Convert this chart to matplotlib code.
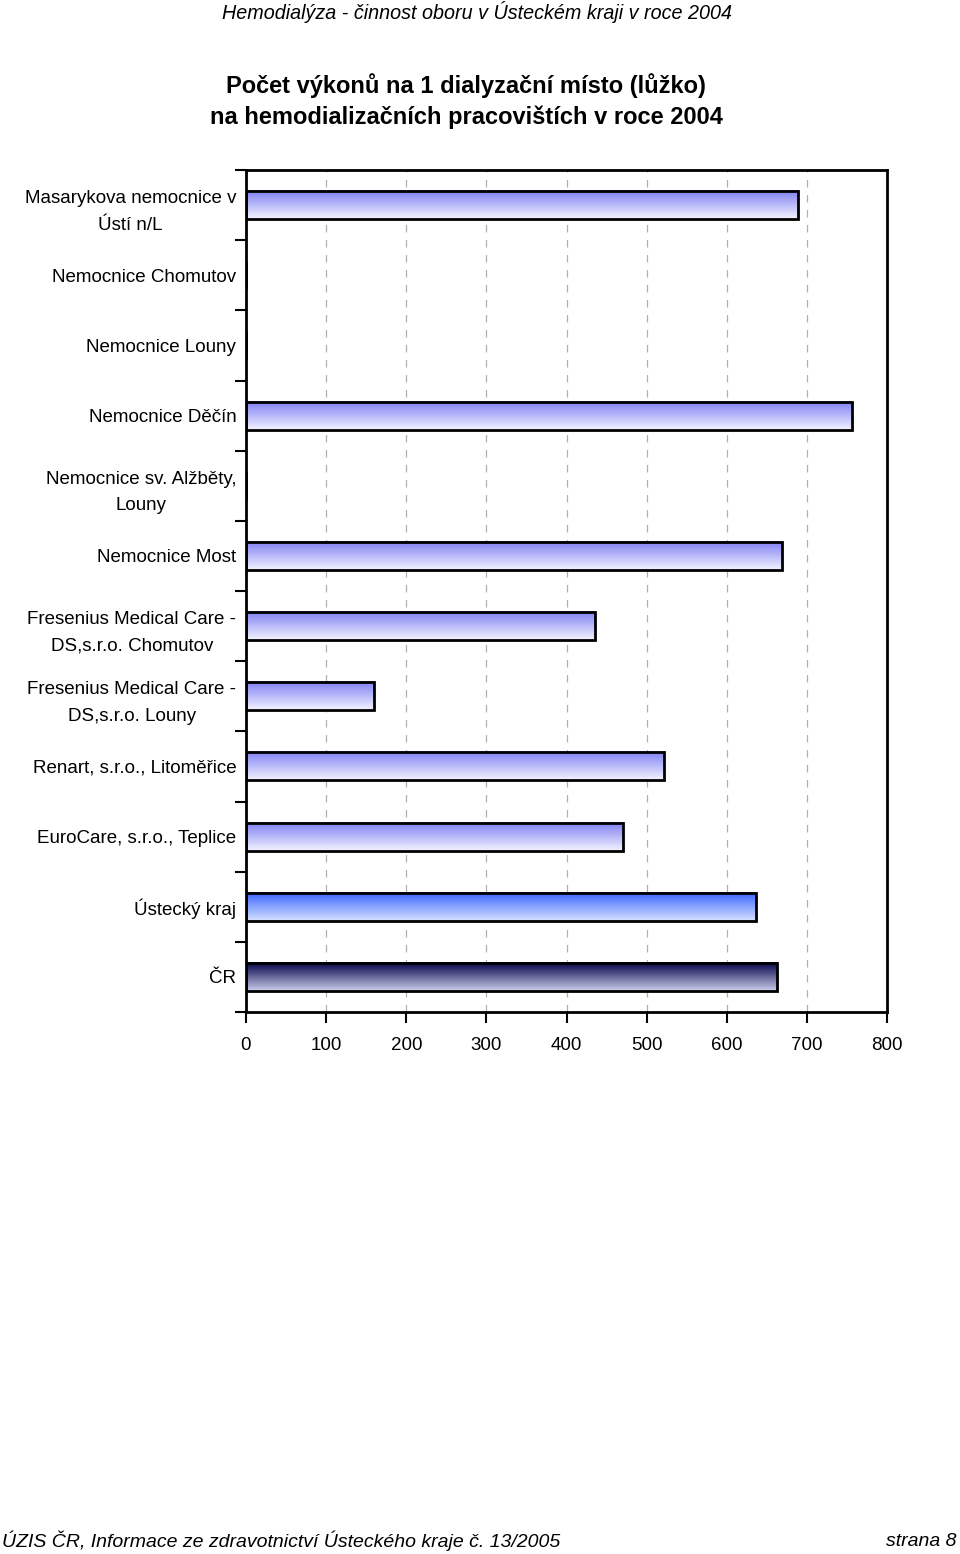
import numpy as np
import matplotlib
matplotlib.use('Agg')
from matplotlib import pyplot as plt

plt.rcParams['font.family'] = ['Liberation Sans Narrow', 'Liberation Sans', 'DejaVu Sans']

categories = ['Masarykova nemocnice v\nÚstí n/L', 'Nemocnice Chomutov', 'Nemocnice Louny',
              'Nemocnice Děčín', 'Nemocnice sv. Alžběty,\nLouny', 'Nemocnice Most',
              'Fresenius Medical Care -\nDS,s.r.o. Chomutov', 'Fresenius Medical Care -\nDS,s.r.o. Louny',
              'Renart, s.r.o., Litoměřice', 'EuroCare, s.r.o., Teplice', 'Ústecký kraj', 'ČR']
values = [689, 0, 0, 756, 0, 669, 436, 160, 522, 471, 637, 663]
xticks = [0, 100, 200, 300, 400, 500, 600, 700, 800]

# gradient colours (top, bottom) per bar type
grad_normal = ('#8080f4', '#f2f2ff')
grad_kraj = ('#3a64ff', '#d6e2ff')
grad_cr = ('#000048', '#ccccea')

lbSize = 13.5

W, H = 960, 1554
fig = plt.figure(figsize=(W / 100, H / 100), dpi=100)
ax = fig.add_axes([246 / W, 1 - 1012 / H, (887 - 246) / W, (1012 - 170) / H])

h = 0.4
for i, v in enumerate(values):
    if v <= 0:
        continue
    if categories[i] == 'ČR':
        c1, c2 = grad_cr
    elif categories[i] == 'Ústecký kraj':
        c1, c2 = grad_kraj
    else:
        c1, c2 = grad_normal
    cmap = matplotlib.colors.LinearSegmentedColormap.from_list('g', [c1, c2])
    grad = np.linspace(0, 1, 64).reshape(-1, 1)
    ax.imshow(grad, cmap=cmap, aspect='auto', extent=[0, v, i + h / 2, i - h / 2],
              origin='upper', zorder=2, interpolation='bilinear')
ax.barh(range(len(values)), values, height=h, fill=False, edgecolor='black', linewidth=2, zorder=3)

ax.set_xlim(0, 800)
ax.set_ylim(len(values) - 0.5, -0.5)
ax.set_xticks(xticks)
ax.set_xticklabels([str(x) for x in xticks], fontsize=lbSize)
ax.xaxis.grid(True, linestyle=(0, (6, 6)), color='#b0b0b0', linewidth=0.9)
ax.set_axisbelow(True)

# category boundary ticks on y axis, labels at centres
ax.set_yticks(np.arange(-0.5, len(values), 1.0))
ax.set_yticklabels([])
ax.set_yticks(range(len(values)), minor=True)
ax.set_yticklabels(categories, minor=True, fontsize=lbSize, multialignment='center', linespacing=1.75)
ax.tick_params(axis='y', which='minor', length=0, pad=7)
ax.tick_params(axis='y', which='major', length=8, width=1.5, direction='out')
ax.tick_params(axis='x', length=8, width=1.5, direction='out', pad=10)
for s in ax.spines.values():
    s.set_linewidth(2)

fig.text(477 / W, 1 - 12 / H, 'Hemodialýza - činnost oboru v Ústeckém kraji v roce 2004',
         ha='center', va='center', fontsize=14.2, style='italic')
fig.text(466 / W, 1 - 101 / H, 'Počet výkonů na 1 dialyzační místo (lůžko)\nna hemodializačních pracovištích v roce 2004',
         ha='center', va='center', fontsize=17, fontweight='bold', linespacing=1.45)
fig.text(2 / W, 1 - 1541 / H, 'ÚZIS ČR, Informace ze zdravotnictví Ústeckého kraje č. 13/2005',
         ha='left', va='center', fontsize=14, style='italic')
fig.text(957 / W, 1 - 1541 / H, 'strana 8', ha='right', va='center', fontsize=14, style='italic')

fig.savefig('out.png', dpi=100)
